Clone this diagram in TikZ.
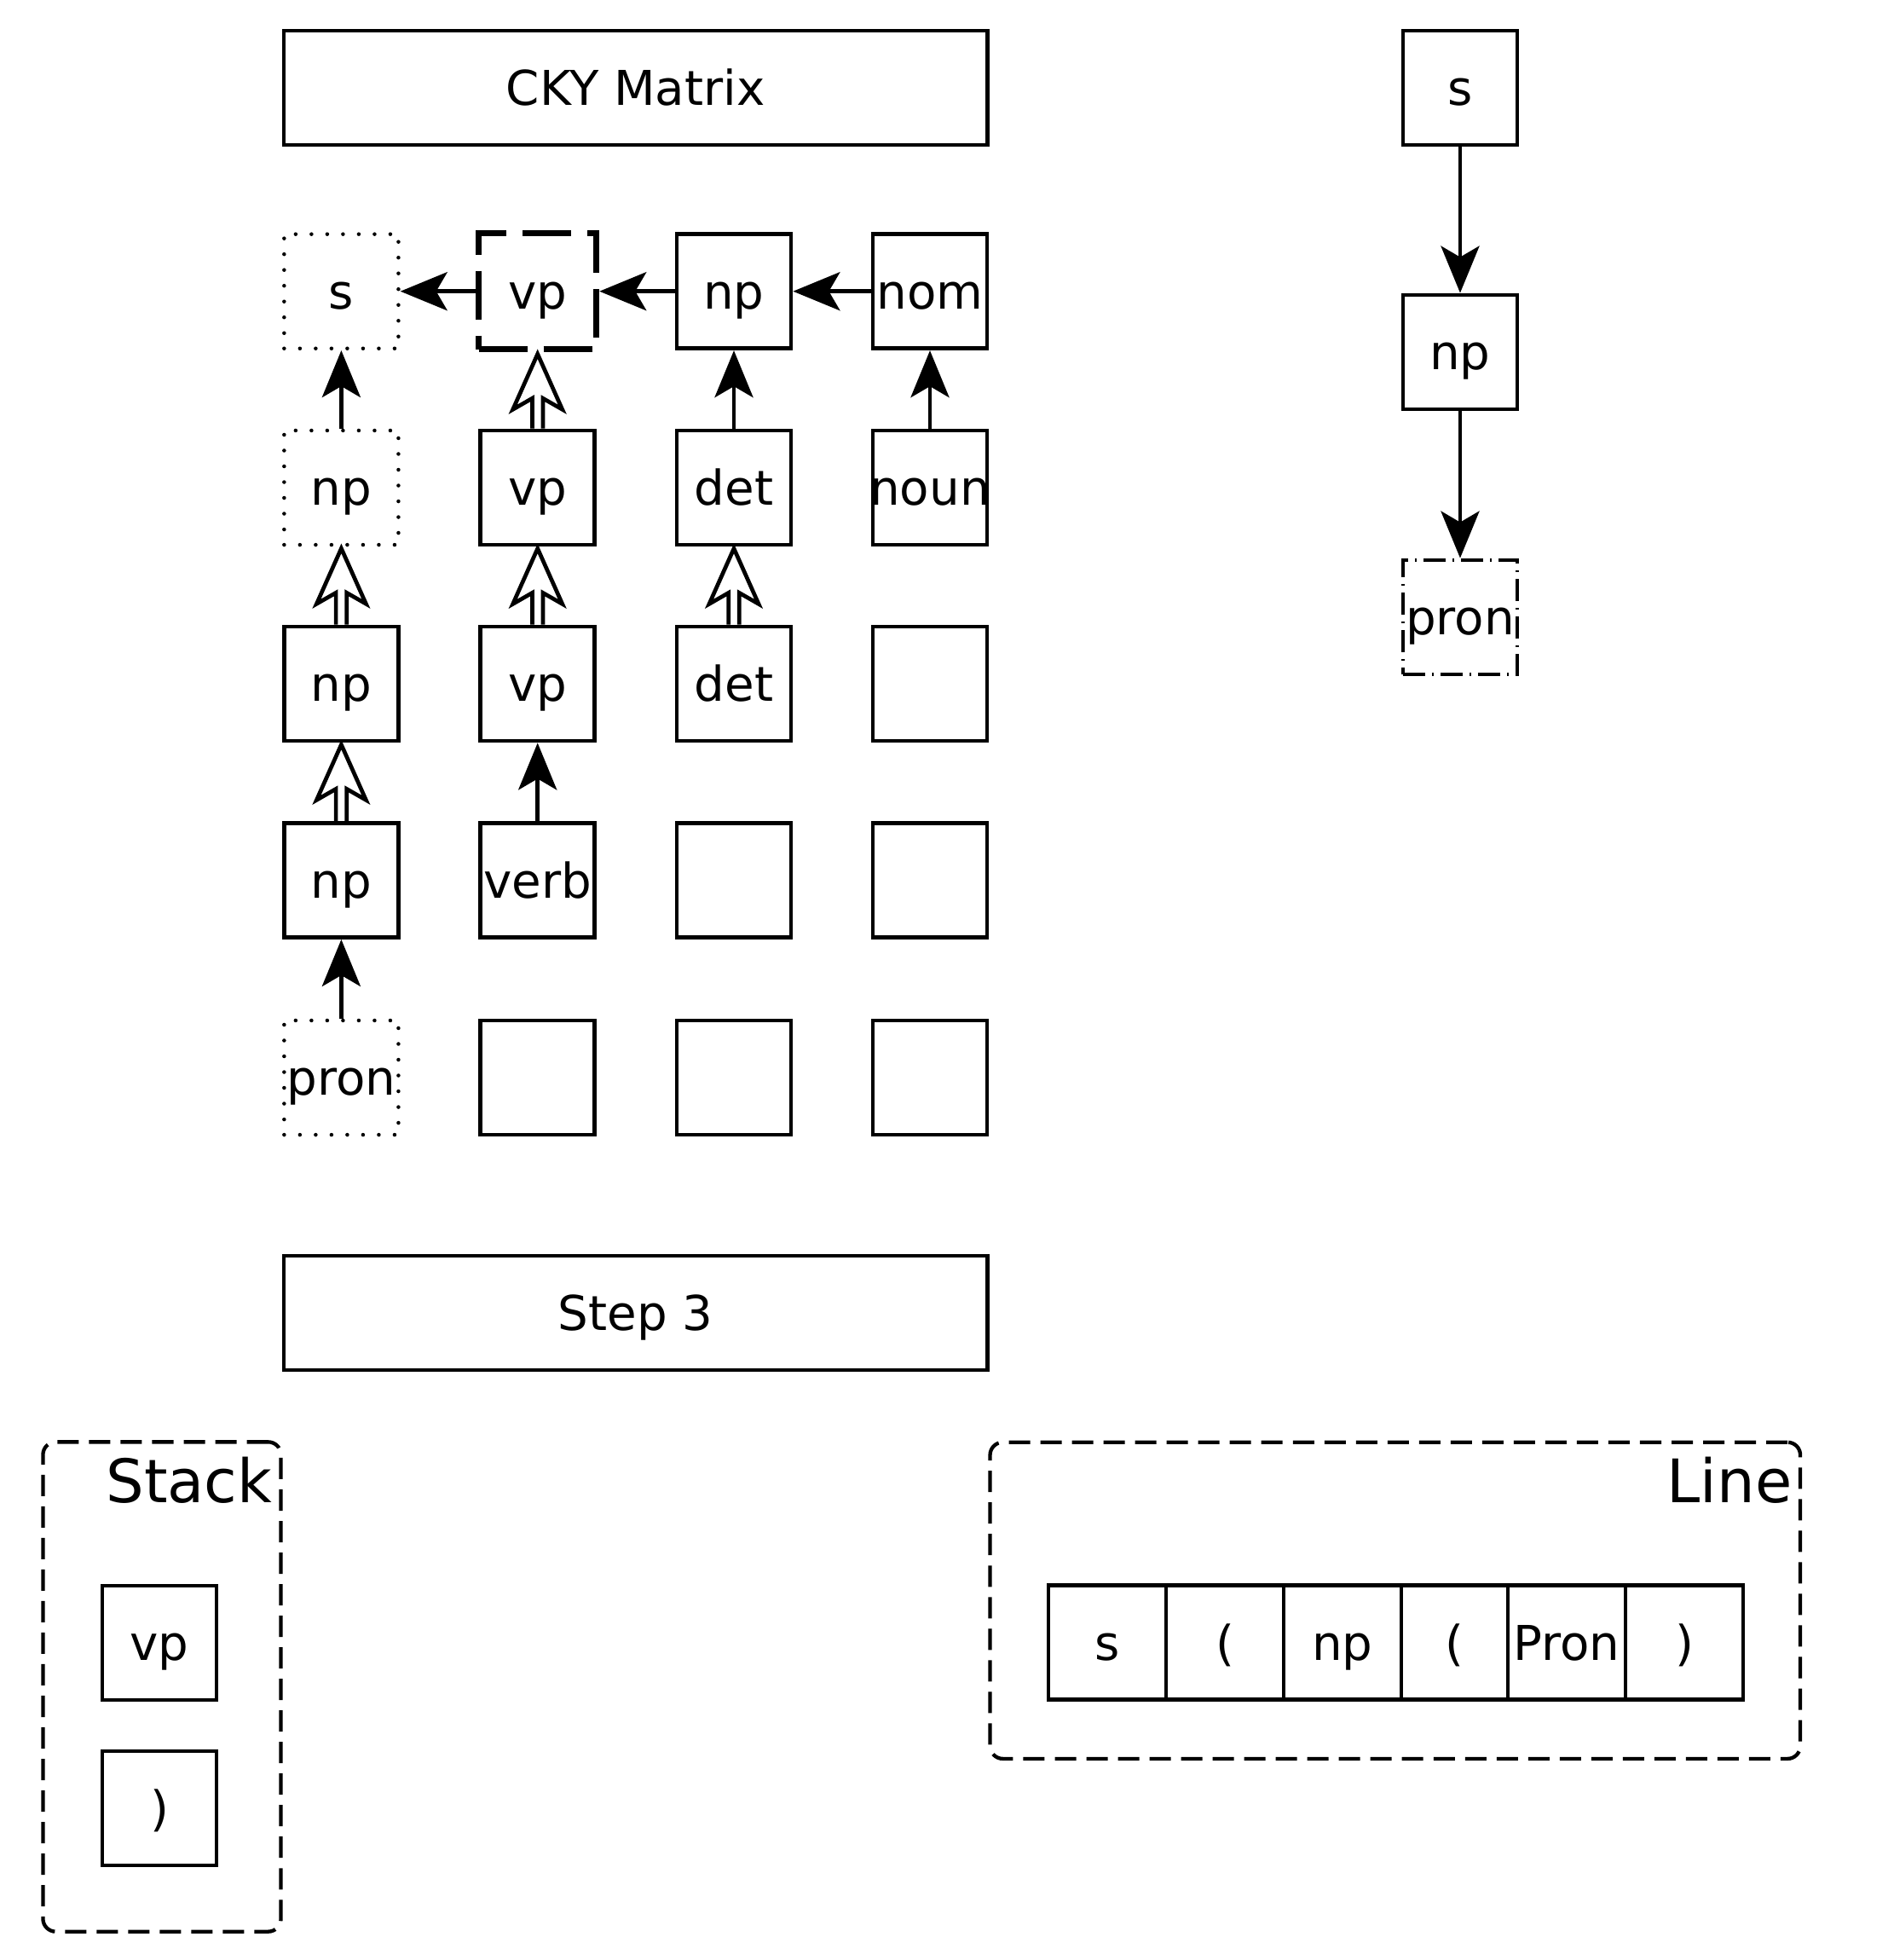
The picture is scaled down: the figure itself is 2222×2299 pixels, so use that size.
\documentclass[tikz,border=0pt]{standalone}
\usepackage{fontspec}
\setmainfont{DejaVu Sans}
\usetikzlibrary{arrows.meta,calc}
% centre a label without letting it widen its box
\newcommand\ctext[1]{\makebox[0pt]{#1}}
% double-shafted open arrow from the top of #1 up to the bottom of #2
\newcommand\hollowup[2]{%
  \draw[hollow] ($(#1.north)+(-6.3,0)$) -- ($(#2.south)+(-6.3,54)$)
    -- ($(#2.south)+(-29,67)$) -- ($(#2.south)+(0,2)$)
    -- ($(#2.south)+(29,67)$) -- ($(#2.south)+(6.3,54)$)
    -- ($(#1.north)+(6.3,0)$);}
\begin{document}
\begin{tikzpicture}[x=0.01cm,y=-0.01cm,
  every node/.style={inner sep=0pt},
  lw/.style={line width=0.047cm},
  cellfont/.style={font=\fontsize{16}{19}\selectfont},
  cell/.style={draw, lw, cellfont, minimum width=1.34cm, minimum height=1.34cm,
    text height=0.41cm, text depth=0cm},
  dotbox/.style={cell, line width=0.045cm, line cap=round,
    dash pattern=on 0pt off 0.185cm},
  bolddash/.style={cell, line width=0.07cm, minimum width=1.38cm, minimum height=1.36cm,
    dash pattern=on 0.57cm off 0.19cm},
  dashdot/.style={cell, dash pattern=on 0.26cm off 0.08cm on 0.02cm off 0.08cm},
  wide/.style={draw, lw, cellfont, minimum width=8.25cm, minimum height=1.34cm,
    text height=0.41cm, text depth=0cm},
  group/.style={draw, line width=0.043cm, rounded corners=0.15cm,
    dash pattern=on 0.25cm off 0.12cm},
  grouplabel/.style={anchor=base east, font=\fontsize{20}{24}\selectfont},
  link/.style={lw, -{Stealth[length=0.55cm,width=0.45cm,inset=0.13cm]}},
  hollow/.style={lw, line join=miter}]
\useasboundingbox (0,0) rectangle (2222,2299);

% headers
\node[wide] (title) at (745.7,103) {CKY Matrix};
\node[wide] (step) at (745.7,1540) {Step 3};

% CKY matrix, row by row
\node[dotbox]   (s1)   at (400.4,341.7) {s};
\node[bolddash] (vp1)  at (630.7,341.7) {vp};
\node[cell]     (np1)  at (861,341.7)   {np};
\node[cell]     (nom1) at (1091,341.7)  {\ctext{nom}};

\node[dotbox] (np2)   at (400.4,572) {np};
\node[cell]   (vp2)   at (630.7,572) {vp};
\node[cell]   (det2)  at (861,572)   {det};
\node[cell]   (noun2) at (1091,572)  {\ctext{noun}};

\node[cell] (np3)  at (400.4,802) {np};
\node[cell] (vp3)  at (630.7,802) {vp};
\node[cell] (det3) at (861,802)   {det};
\node[cell] (e34)  at (1091,802)  {};

\node[cell] (np4)   at (400.4,1032.5) {np};
\node[cell] (verb4) at (630.7,1032.5) {\ctext{verb}};
\node[cell] (e43)   at (861,1032.5)   {};
\node[cell] (e44)   at (1091,1032.5)  {};

\node[dotbox] (pron5) at (400.4,1264) {\ctext{pron}};
\node[cell]   (e52)   at (630.7,1264) {};
\node[cell]   (e53)   at (861,1264)   {};
\node[cell]   (e54)   at (1091,1264)  {};

% derivations inside the matrix
\draw[link] (vp1) -- (s1);
\draw[link] (np1) -- (vp1);
\draw[link] (nom1) -- (np1);
\draw[link] (np2) -- (s1);
\draw[link] (det2) -- (np1);
\draw[link] (noun2) -- (nom1);
\draw[link] (verb4) -- (vp3);
\draw[link] (pron5) -- (np4);
\hollowup{np3}{np2}
\hollowup{np4}{np3}
\hollowup{vp2}{vp1}
\hollowup{vp3}{vp2}
\hollowup{det3}{det2}

% parse tree
\node[cell]    (ts)    at (1713,103) {s};
\node[cell]    (tnp)   at (1713,413) {np};
\node[dashdot] (tpron) at (1713,724) {\ctext{pron}};
\draw[link] (ts) -- (tnp);
\draw[link] (tnp) -- (tpron);

% stack
\node[group, minimum width=2.79cm, minimum height=5.74cm] (stack) at (190,1978.5) {};
\node[grouplabel] (stacklbl) at (320,1762) {Stack};
\node[cell] (st1) at (187,1927) {vp};
\node[cell] (st2) at (187,2121) {)};

% line
\node[group, minimum width=9.5cm, minimum height=3.71cm] (line) at (1636.8,1877.3) {};
\node[grouplabel] (linelbl) at (2103,1762) {Line};
\node[cell, minimum width=1.38cm] (l1) at (1299,1926.5)   {s};
\node[cell, minimum width=1.38cm] (l2) at (1437,1926.5)   {(};
\node[cell, minimum width=1.38cm] (l3) at (1575,1926.5)   {np};
\node[cell, minimum width=1.25cm] (l4) at (1706.5,1926.5) {(};
\node[cell, minimum width=1.38cm] (l5) at (1838,1926.5)   {\ctext{Pron}};
\node[cell, minimum width=1.38cm] (l6) at (1976,1926.5)   {)};
\end{tikzpicture}
\end{document}
